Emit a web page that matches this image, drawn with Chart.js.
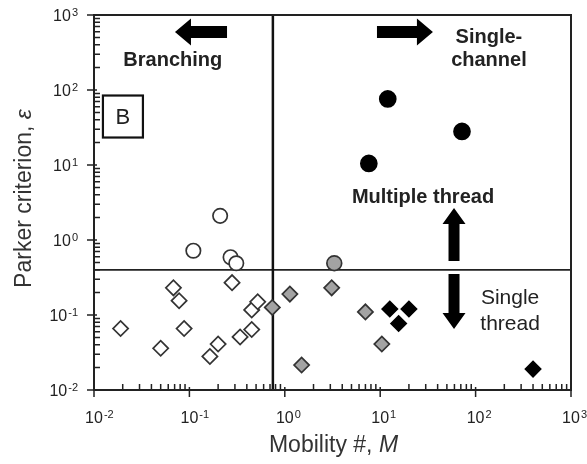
<!DOCTYPE html>
<html>
<head>
<meta charset="utf-8">
<script src="https://cdn.jsdelivr.net/npm/chart.js@4.4.1/dist/chart.umd.min.js"></script>
<style>
    html, body { margin: 0; padding: 0; background: #fff; }
    #regimeChart { display: block; }
</style>
</head>
<body>
<canvas id="regimeChart" width="587" height="464"></canvas>
<script>
// ===== AXES =====
const xTicks = [0.01, 0.1, 1, 10, 100, 1000];
const xTickLabels = [['10', '-2'], ['10', '-1'], ['10', '0'], ['10', '1'], ['10', '2'], ['10', '3']];
const yTicks = [0.01, 0.1, 1, 10, 100, 1000];
const yTickLabels = [['10', '-2'], ['10', '-1'], ['10', '0'], ['10', '1'], ['10', '2'], ['10', '3']];

// ===== SERIES : [mobility M, parker epsilon] =====
const openCircles = [[0.21, 2.1], [0.11, 0.72], [0.27, 0.59], [0.31, 0.49]];
const grayCircles = [[3.3, 0.49]];
const blackCircles = [[12, 76], [72, 28], [7.6, 10.5]];

const openDiamonds = [
    [0.019, 0.066], [0.05, 0.036], [0.068, 0.23], [0.078, 0.155], [0.088, 0.066],
    [0.164, 0.028], [0.2, 0.041], [0.28, 0.27], [0.34, 0.051], [0.45, 0.117],
    [0.45, 0.064], [0.52, 0.15]
];
const grayDiamonds = [[0.74, 0.126], [1.13, 0.19], [3.1, 0.23], [7.0, 0.11], [10.4, 0.041], [1.5, 0.0215]];
const blackDiamonds = [[12.6, 0.12], [20, 0.12], [15.6, 0.077], [400, 0.019]];

// thresholds between regimes
const mobilityThreshold = 0.75;
const parkerThreshold = 0.4;

const FONT = '"Liberation Sans", Arial, Helvetica, sans-serif';
const INK = '#222';

function toPoints(list) {
    return list.map(p => ({ x: p[0], y: p[1] }));
}

function markerSet(list, style, fill, radius, border) {
    return {
        data: toPoints(list),
        pointStyle: style,
        pointRadius: radius,
        pointBackgroundColor: fill,
        pointBorderColor: border || '#333',
        pointBorderWidth: 1.7,
        order: 1
    };
}

// ===== DESSIN DES AXES ET ANNOTATIONS =====
function drawPower(ctx, x, y, base, exp, align) {
    ctx.font = '16px ' + FONT;
    const wb = ctx.measureText(base).width;
    ctx.font = '11px ' + FONT;
    const we = ctx.measureText(exp).width;
    const x0 = align === 'right' ? x - wb - we - 1 : x - wb / 2;
    ctx.textAlign = 'left';
    ctx.textBaseline = 'alphabetic';
    ctx.font = '16px ' + FONT;
    ctx.fillText(base, x0, y);
    ctx.font = '11px ' + FONT;
    ctx.fillText(exp, x0 + wb + 1, y - 5);
}

function drawArrow(ctx, x1, y1, x2, y2, shaft, head) {
    const ang = Math.atan2(y2 - y1, x2 - x1);
    const len = Math.hypot(x2 - x1, y2 - y1);
    const hl = 16;
    ctx.save();
    ctx.translate(x1, y1);
    ctx.rotate(ang);
    ctx.beginPath();
    ctx.moveTo(0, -shaft / 2);
    ctx.lineTo(len - hl, -shaft / 2);
    ctx.lineTo(len - hl, -head / 2);
    ctx.lineTo(len, 0);
    ctx.lineTo(len - hl, head / 2);
    ctx.lineTo(len - hl, shaft / 2);
    ctx.lineTo(0, shaft / 2);
    ctx.closePath();
    ctx.fillStyle = '#000';
    ctx.fill();
    ctx.restore();
}

const frameAndLabels = {
    id: 'frameAndLabels',
    afterDatasetsDraw(chart) {
        const ctx = chart.ctx;
        const xs = chart.scales.x;
        const ys = chart.scales.y;
        const a = chart.chartArea;
        const px = v => xs.getPixelForValue(v);
        const py = v => ys.getPixelForValue(v);

        ctx.save();
        ctx.strokeStyle = INK;
        ctx.fillStyle = INK;

        // cadre
        ctx.lineWidth = 2;
        ctx.strokeRect(a.left, a.top, a.right - a.left, a.bottom - a.top);

        // graduations majeures et mineures
        ctx.lineWidth = 1.5;
        ctx.beginPath();
        xTicks.forEach((t, i) => {
            const x = px(t);
            ctx.moveTo(x, a.bottom + 7);
            ctx.lineTo(x, a.bottom - 3);
            if (i < xTicks.length - 1) {
                for (let k = 2; k <= 9; k++) {
                    const xm = px(t * k);
                    ctx.moveTo(xm, a.bottom);
                    ctx.lineTo(xm, a.bottom - 6);
                }
            }
        });
        yTicks.forEach((t, i) => {
            const y = py(t);
            ctx.moveTo(a.left - 7, y);
            ctx.lineTo(a.left + 3, y);
            if (i < yTicks.length - 1) {
                for (let k = 2; k <= 9; k++) {
                    const ym = py(t * k);
                    ctx.moveTo(a.left, ym);
                    ctx.lineTo(a.left + 6, ym);
                }
            }
        });
        ctx.stroke();

        // libellés des graduations
        xTicks.forEach((t, i) => drawPower(ctx, px(t), a.bottom + 33, xTickLabels[i][0], xTickLabels[i][1], 'center'));
        yTicks.forEach((t, i) => drawPower(ctx, a.left - 16, py(t) + 6, yTickLabels[i][0], yTickLabels[i][1], 'right'));

        // titres des axes
        ctx.font = '23px ' + FONT;
        ctx.fillStyle = '#333';
        ctx.textBaseline = 'alphabetic';
        const t1 = 'Mobility #, ';
        const w1 = ctx.measureText(t1).width;
        ctx.font = 'italic 23px ' + FONT;
        const w2 = ctx.measureText('M').width;
        let xt = (a.left + a.right) / 2 + 1 - (w1 + w2) / 2;
        ctx.textAlign = 'left';
        ctx.font = '23px ' + FONT;
        ctx.fillText(t1, xt, 452);
        ctx.font = 'italic 23px ' + FONT;
        ctx.fillText('M', xt + w1, 452);

        ctx.save();
        ctx.translate(31, (a.top + a.bottom) / 2 - 4);
        ctx.rotate(-Math.PI / 2);
        ctx.font = '23px ' + FONT;
        const t3 = 'Parker criterion, ';
        const w3 = ctx.measureText(t3).width;
        ctx.font = 'italic 23px ' + FONT;
        const w4 = ctx.measureText('ε').width;
        ctx.font = '23px ' + FONT;
        ctx.fillText(t3, -(w3 + w4) / 2, 0);
        ctx.font = 'italic 23px ' + FONT;
        ctx.fillText('ε', -(w3 + w4) / 2 + w3, 0);
        ctx.restore();

        // flèches
        drawArrow(ctx, px(0.248), py(593), px(0.0706), py(593), 12, 27);
        drawArrow(ctx, px(9.25), py(593), px(35.7), py(593), 12, 27);
        drawArrow(ctx, px(59.4), py(0.525), px(59.4), py(2.67), 11, 23);
        drawArrow(ctx, px(59.4), py(0.352), px(59.4), py(0.065), 11, 23);

        // étiquettes des régimes
        ctx.fillStyle = INK;
        ctx.textAlign = 'center';
        ctx.textBaseline = 'middle';
        ctx.font = 'bold 20px ' + FONT;
        ctx.fillText('Branching', px(0.067), py(244));
        ctx.fillText('Single-', px(138), py(500));
        ctx.fillText('channel', px(138), py(500) + 23);
        ctx.fillText('Multiple thread', px(28.1), py(3.74));
        ctx.font = '21px ' + FONT;
        ctx.fillText('Single', px(230), py(0.169));
        ctx.fillText('thread', px(230), py(0.169) + 26);

        // encadré B
        const bx = px(0.0201), by = py(44.3);
        ctx.lineWidth = 2.2;
        ctx.strokeStyle = '#111';
        ctx.strokeRect(bx - 20, by - 21, 40, 42);
        ctx.font = '22px ' + FONT;
        ctx.fillText('B', bx, by + 1);

        ctx.restore();
    }
};

// ===== GRAPHIQUE =====
document.addEventListener('DOMContentLoaded', function() {
    const ctx = document.getElementById('regimeChart').getContext('2d');

    new Chart(ctx, {
        type: 'scatter',
        data: {
            datasets: [
                {
                    data: [{ x: mobilityThreshold, y: 0.01 }, { x: mobilityThreshold, y: 1000 }],
                    showLine: true, pointRadius: 0, borderColor: '#111', borderWidth: 2.5, order: 10
                },
                {
                    data: [{ x: 0.01, y: parkerThreshold }, { x: 1000, y: parkerThreshold }],
                    showLine: true, pointRadius: 0, borderColor: '#222', borderWidth: 1.6, order: 10
                },
                markerSet(openDiamonds, 'rectRot', '#fff', 7.6),
                markerSet(grayDiamonds, 'rectRot', '#a3a3a3', 7.6),
                markerSet(blackDiamonds, 'rectRot', '#000', 7.6, '#000'),
                markerSet(openCircles, 'circle', '#fff', 7.2),
                markerSet(grayCircles, 'circle', '#a3a3a3', 7.4),
                markerSet(blackCircles, 'circle', '#000', 8, '#000')
            ]
        },
        options: {
            responsive: false,
            animation: false,
            devicePixelRatio: 1,
            layout: { padding: { left: 94, top: 15, right: 16, bottom: 74 } },
            plugins: {
                legend: { display: false },
                tooltip: { enabled: false }
            },
            scales: {
                x: { type: 'logarithmic', min: 0.01, max: 1000, display: false },
                y: { type: 'logarithmic', min: 0.01, max: 1000, display: false }
            }
        },
        plugins: [frameAndLabels]
    });
});
</script>
</body>
</html>
